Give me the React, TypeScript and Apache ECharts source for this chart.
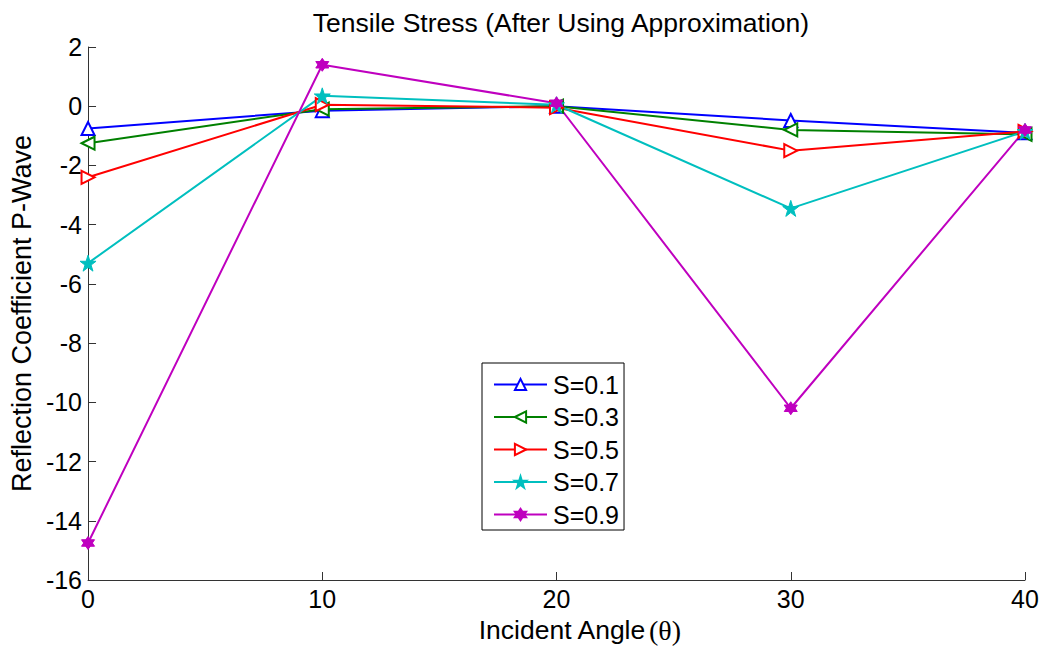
import React, { useEffect, useRef } from "react";
import * as echarts from "echarts";

const angles = [0, 10, 20, 30, 40];
const seriesNames = ["S=0.1", "S=0.3", "S=0.5", "S=0.7", "S=0.9"];
const s01 = [-0.75, -0.15, 0.0, -0.48, -0.9];
const s03 = [-1.25, -0.1, 0.0, -0.8, -0.95];
const s05 = [-2.4, 0.05, -0.05, -1.5, -0.85];
const s07 = [-5.3, 0.35, 0.05, -3.45, -0.85];
const s09 = [-14.75, 1.4, 0.1, -10.2, -0.8];
const yTicks = [2, 0, -2, -4, -6, -8, -10, -12, -14, -16];

const STAR =
  "path://M0,-100 L22.5,-30.9 L95.1,-30.9 L36.3,11.8 L58.8,80.9 L0,38.2 L-58.8,80.9 L-36.3,11.8 L-95.1,-30.9 L-22.5,-30.9 Z";
const HEX =
  "path://M0,-100 L86.6,50 L-86.6,50 Z M0,100 L-86.6,-50 L86.6,-50 Z";

export default function App() {
  const ref = useRef<HTMLDivElement>(null);
  useEffect(() => {
    if (!ref.current) return;
    const chart = echarts.init(ref.current, undefined, { renderer: "svg" });
    const font = "Liberation Sans, Arial, sans-serif";
    const mk = (
      name: string,
      data: number[],
      color: string,
      symbol: string,
      rotate: number,
      hollow: boolean,
      size: number
    ) => ({
      name,
      type: "line",
      data: angles.map((a, i) => [a, data[i]]),
      symbol,
      symbolSize: size,
      symbolRotate: rotate,
      showAllSymbol: true,
      lineStyle: { color, width: 2 },
      itemStyle: hollow
        ? { color: "#fff", borderColor: color, borderWidth: 2 }
        : { color, borderColor: color, borderWidth: 1 },
    });
    chart.setOption({
      animation: false,
      backgroundColor: "#fff",
      title: {
        text: "Tensile Stress (After Using Approximation)",
        left: 556,
        textAlign: "center",
        top: 4,
        textStyle: { fontFamily: font, fontSize: 26.5, fontWeight: "normal", color: "#000" },
      },
      grid: { left: 86, right: 24, top: 47, bottom: 75, containLabel: false },
      legend: {
        orient: "vertical",
        left: 482,
        top: 363,
        padding: [9, 5, 3, 11],
        itemGap: 7.5,
        itemWidth: 53,
        itemHeight: 14,
        borderColor: "#000",
        borderWidth: 1,
        borderRadius: 0,
        backgroundColor: "#fff",
        textStyle: { fontFamily: font, fontSize: 25, lineHeight: 25, color: "#000", padding: [0, 0, 0, 1] },
        data: seriesNames,
      },
      xAxis: {
        type: "value",
        min: 0,
        max: 40,
        interval: 10,
        name: "Incident Angle{t|(θ)}",
        nameLocation: "middle",
        nameGap: 36,
        nameTextStyle: {
          fontFamily: font,
          fontSize: 26.5,
          color: "#000",
          padding: [0, 0, 0, 46],
          rich: { t: { fontFamily: "Liberation Serif, serif", fontSize: 28, color: "#000", padding: [0, 0, 0, 3] } },
        },
        axisLine: { onZero: false, lineStyle: { color: "#333", width: 1 } },
        axisTick: { inside: true, length: 8, lineStyle: { color: "#333" } },
        axisLabel: { fontFamily: font, fontSize: 25, color: "#000", margin: 6 },
        splitLine: { show: false },
      },
      yAxis: {
        type: "value",
        min: -16,
        max: 2,
        interval: 2,
        name: "Reflection Coefficient P-Wave",
        nameLocation: "middle",
        nameGap: 50,
        nameTextStyle: { fontFamily: font, fontSize: 27, color: "#000" },
        axisLine: { show: true, onZero: false, lineStyle: { color: "#333", width: 1 } },
        axisTick: { show: true, inside: true, length: 8, lineStyle: { color: "#333" } },
        axisLabel: {
          fontFamily: font,
          fontSize: 25,
          color: "#000",
          margin: 6,
          formatter: (v: number) => (yTicks.includes(v) ? String(v) : ""),
        },
        splitLine: { show: false },
      },
      series: [
        mk(seriesNames[0], s01, "#0000ff", "triangle", 0, true, 13),
        mk(seriesNames[1], s03, "#008000", "triangle", 90, true, 13),
        mk(seriesNames[2], s05, "#ff0000", "triangle", -90, true, 13),
        mk(seriesNames[3], s07, "#00bfbf", STAR, 0, false, 16),
        mk(seriesNames[4], s09, "#bf00bf", HEX, 0, false, 13),
      ],
    });
    return () => chart.dispose();
  }, []);
  return <div ref={ref} style={{ width: 1049, height: 655, position: "absolute", left: 0, top: 0 }} />;
}
